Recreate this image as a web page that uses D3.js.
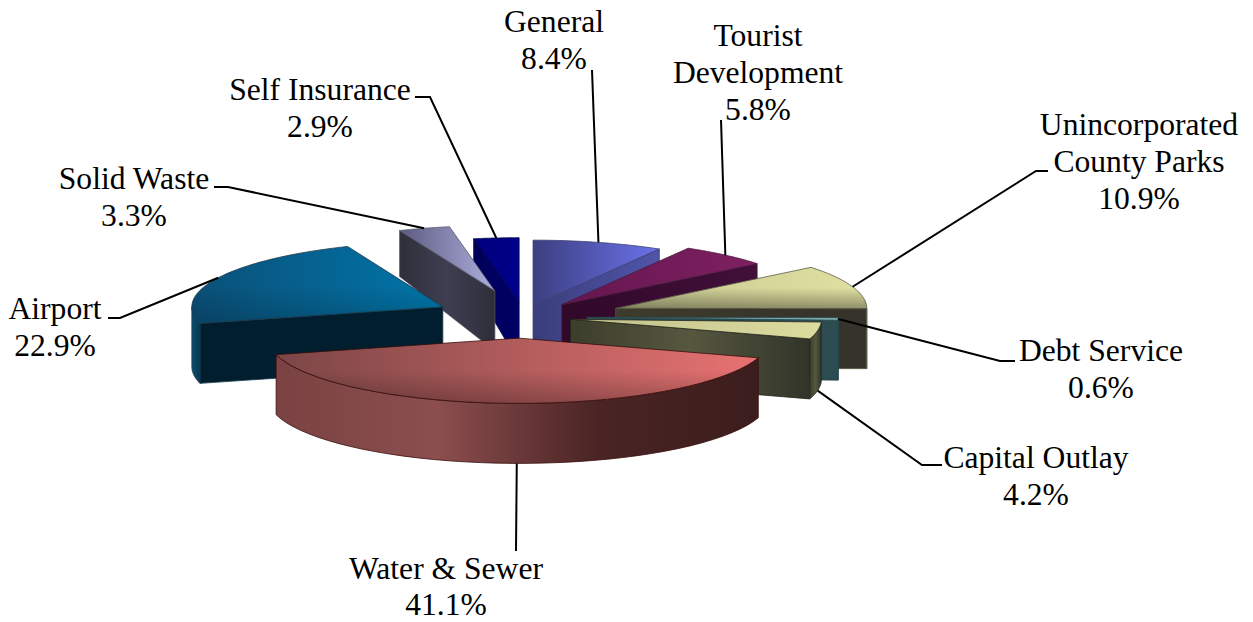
<!DOCTYPE html>
<html><head><meta charset="utf-8">
<style>html,body{margin:0;padding:0;background:#fff}svg{display:block}text{font-family:"Liberation Serif","Times New Roman",serif;font-size:31.6px;fill:#000}</style>
<script src="https://cdn.jsdelivr.net/npm/d3@7/dist/d3.min.js"></script></head><body>
<script>
const categories = ["General","Tourist Development","Unincorporated County Parks","Debt Service","Capital Outlay","Water & Sewer","Airport","Solid Waste","Self Insurance"];
const values = [8.4,5.8,10.9,0.6,4.2,41.1,22.9,3.3,2.9];
const labelLines = [["General"],["Tourist","Development"],["Unincorporated","County Parks"],["Debt Service"],["Capital Outlay"],["Water & Sewer"],["Airport"],["Solid Waste"],["Self Insurance"]];
const explode = [.184,.25,.40,.264,.20,.324,.348,.413,.215];

// layout and styling, separate from data
const W=1253,H=622,cx=521,cy=317,R=251,K=.26;
const dirOverride={7:345.4,8:358};
const anchorOverride={5:180.5};
const labelPos=[[554,32],[758,46],[1139,135],[1101,361],[1036,468],[446,579],[55,319],[134,189],[320,100]];
const linePitch={5:36};
const elbow=[[[592,70]],[[721,120]],[[1048,171],[1036,171]],[[1015,361],[1000,361]],[[942,465],[922,465]],[[516,551]],[[108,318],[120,318]],[[214,187],[228,187]],[[415,97],[430,97]]];
const drawOrder=[8,0,1,2,7,6,3,4,5];
const palette=[
 {top:["#3b3f80","#6c72ea"],side:["#3a3d7a","#5055aa"],edge:"#3c3f70"},
 {top:["#641650","#7f2060"],side:["#300828","#42103a"],edge:"#4a1a40"},
 {top:["#c8c892","#e0e0a2"],side:["#3c3b2c","#35332a"],edge:"#5c5c48",shade:.36},
 {top:["#6fa5a8","#86bcbc"],side:["#2a4a50","#2d4c52"],edge:"#2a4a50"},
 {top:["#c0c08c","#dcdca0"],side:["#3c3e2c","#55573f","#32342a"],edge:"#26261a"},
 {top:["#7c4646","#e87272"],side:["#7a4242","#8c4e4e","#4a2424","#3c1d1d"],edge:"#3a0c0c",shade:.26},
 {top:["#0a5078","#0076aa"],side:["#001e2d","#001e2d"],rim:["#0a4e6e","#063a52"],edge:"#1a3a4c",shade:.18},
 {top:["#5b5b80","#aeaede"],side:["#2f2f3c","#3e3e50","#2e2e3a"],edge:"#55556a"},
 {top:["#00007e","#00008a"],side:["#00005a","#000066"],edge:"#000040"}
];

const arcs=d3.pie().sort(null).startAngle(0).endAngle(2*Math.PI).value(d=>d)(values);
const x=d3.scaleLinear().domain([-1,1]).range([cx-R,cx+R]);
const y=d3.scaleLinear().domain([-1,1]).range([cy+R*K,cy-R*K]);
const depth=d3.scaleLinear().domain([233,291]).range([46,60]).clamp(true);
const rad=d=>d*Math.PI/180;
const line=d3.line();

const svg=d3.select("body").append("svg").attr("width",W).attr("height",H);
const defs=svg.append("defs");
function grad(id,stops,vertical){
  const g=defs.append("linearGradient").attr("id",id).attr("x1",0).attr("y1",0).attr("x2",vertical?0:1).attr("y2",vertical?1:0);
  stops.forEach((s,i)=>{const st=g.append("stop").attr("offset",i/(stops.length-1)).attr("stop-color",s.c||s);if(s.o!=null)st.attr("stop-opacity",s.o);});
  return `url(#${id})`;
}

function project(i,r,ang){
  const a=arcs[i], dir=dirOverride[i]!=null?rad(dirOverride[i]):(a.startAngle+a.endAngle)/2;
  return [x(explode[i]*Math.sin(dir)+r*Math.sin(ang)), y(explode[i]*Math.cos(dir)+r*Math.cos(ang))];
}
const down=p=>[p[0],p[1]+depth(p[1])];
function arcPts(i,a0,a1){return d3.range(0,41).map(t=>project(i,1,a0+(a1-a0)*t/40));}

const slices=svg.append("g");
drawOrder.forEach(i=>{
  const a=arcs[i],p=palette[i],g=slices.append("g").attr("class","slice");
  const apex=project(i,0,0),outer=arcPts(i,a.startAngle,a.endAngle);
  const sideFill=grad(`s${i}`,p.side),rimFill=p.rim?grad(`r${i}`,p.rim):sideFill;
  const stroke=s=>s.attr("stroke",p.edge).attr("stroke-width",.8).attr("stroke-linejoin","round");
  // cut faces that face the viewer
  if(Math.sin(a.startAngle)<0){const c=project(i,1,a.startAngle);
    g.append("path").attr("d",line([apex,c,down(c),down(apex)])+"Z").attr("fill",sideFill).call(stroke);}
  if(Math.sin(a.endAngle)>0){const c=project(i,1,a.endAngle);
    g.append("path").attr("d",line([apex,c,down(c),down(apex)])+"Z").attr("fill",sideFill).call(stroke);}
  // outer rim, front half only
  const lo=Math.max(a.startAngle,Math.PI/2),hi=Math.min(a.endAngle,1.5*Math.PI);
  if(hi>lo){const rim=arcPts(i,lo,hi);
    g.append("path").attr("d",line(rim.concat(rim.slice().reverse().map(down)))+"Z").attr("fill",rimFill).call(stroke);}
  // top surface
  const topD=line([apex].concat(outer))+"Z";
  g.append("path").attr("d",topD).attr("fill",grad(`t${i}`,p.top)).call(stroke);
  if(p.shade) g.append("path").attr("d",topD).attr("fill",grad(`o${i}`,[{c:"#000",o:0},{c:"#000",o:0},{c:"#000",o:p.shade}],true));
});

// leader lines run from the label elbow to the slice rim
const leaders=svg.append("g").attr("fill","none").attr("stroke","#000").attr("stroke-width",2);
arcs.forEach((a,i)=>{
  const ang=anchorOverride[i]!=null?rad(anchorOverride[i]):(a.startAngle+a.endAngle)/2;
  let e=project(i,1,ang); if(Math.cos(ang)<-.1) e=down(e);
  leaders.append("path").attr("d",line(elbow[i].concat([e])));
});

const fmt=d=>d3.format(".1f")(d)+"%";
const labels=svg.append("g").attr("text-anchor","middle");
categories.forEach((c,i)=>{
  const [lx,ly]=labelPos[i],lines=labelLines[i].concat(fmt(values[i]));
  const t=labels.append("text").attr("x",lx).attr("y",ly);
  lines.forEach((l,j)=>t.append("tspan").attr("x",lx).attr("dy",j?(linePitch[i]||37):0).text(l));
});
</script></body></html>
